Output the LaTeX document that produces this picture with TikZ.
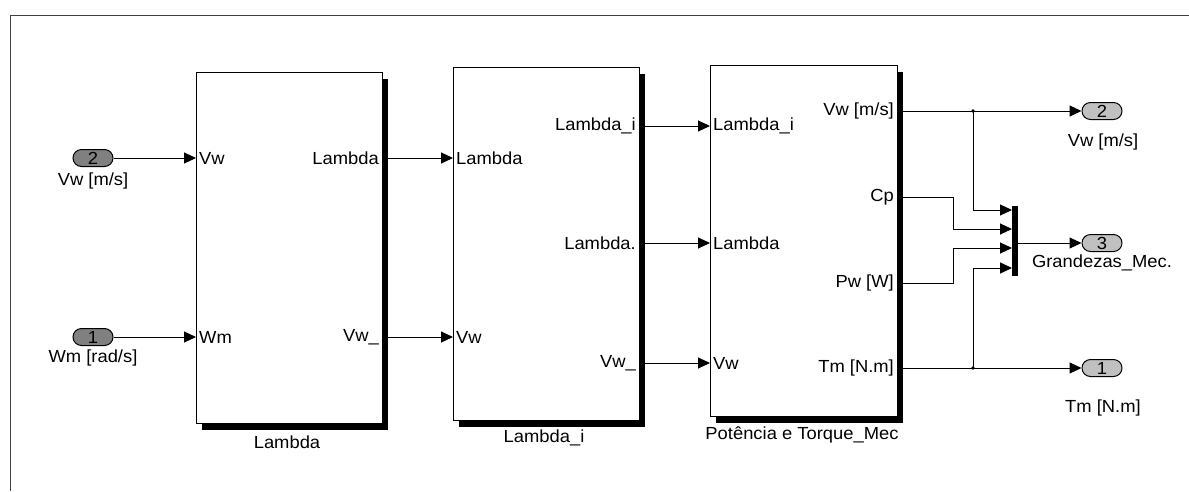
\documentclass[tikz,border=0pt]{standalone}
\usepackage{fontspec}
\setmainfont{Liberation Sans}[FakeStretch=1.05]
\usetikzlibrary{positioning,arrows.meta,shadows,shapes.misc}
\newcommand\fs{\fontsize{17.5}{20}\selectfont}
\definecolor{inpgray}{RGB}{128,128,128}
\definecolor{outgray}{RGB}{192,192,192}

\begin{document}
\begin{tikzpicture}[x=1pt,y=-1pt,
  blk/.style={draw,fill=white,line width=1pt,inner sep=0pt,anchor=north west,
    general shadow={fill=black,shadow xshift=5pt,shadow yshift=-6pt}},
  pin/.style={font=\fs,inner sep=3pt,anchor=west},
  pout/.style={font=\fs,inner sep=3pt,anchor=east},
  inp/.style={draw,line width=1pt,rounded rectangle,fill=inpgray,minimum width=40pt,
    minimum height=17pt,inner sep=0pt,font=\fs},
  outp/.style={inp,fill=outgray},
  lbl/.style={font=\fs,inner sep=0pt},
  ar/.style={-{Triangle[length=12pt,width=11pt]}},
  wire/.style={line width=1pt}]
\useasboundingbox (0,0) rectangle (1189,491);
\draw[black!75,line width=1pt] (1189,15) -- (10,15) -- (10,491);

% inports
\node[inp] (in2) at (93,158) {2};
\node[lbl] at (93,181) {Vw [m/s]};
\node[inp] (in1) at (93,337) {1};
\node[lbl] at (93,358) {Wm [rad/s]};

% block Lambda
\node[blk,minimum width=186pt,minimum height=351pt] (lam) at (196,72) {};
\node[lbl] at (287,442) {Lambda};
\node[pin] (lamVw) at (196,158) {Vw};
\node[pin] (lamWm) at (196,337) {Wm};
\node[pout] (lamLam) at (382,158) {Lambda};
\node[pout] (lamV) at (382,337) {Vw\_};

% block Lambda_i
\node[blk,minimum width=186pt,minimum height=353pt] (li) at (453,67) {};
\node[lbl] at (544,438) {Lambda\_i};
\node[pin] (liLam) at (453,158) {Lambda};
\node[pin] (liVw) at (453,337) {Vw};
\node[pout] (liLi) at (639,126) {Lambda\_i};
\node[pout] (liLam2) at (639,243) {Lambda.};
\node[pout] (liV) at (639,363) {Vw\_};

% block Potencia e Torque_Mec
\node[blk,minimum width=187pt,minimum height=351pt] (pt) at (710,65) {};
\node[lbl] at (802,435) {Potência e Torque\_Mec};
\node[pin] (ptLi) at (710,126) {Lambda\_i};
\node[pin] (ptLam) at (710,243) {Lambda};
\node[pin] (ptVw) at (710,363) {Vw};
\node[pout] (ptV) at (897,111) {Vw [m/s]};
\node[pout] (ptCp) at (897,197) {Cp};
\node[pout] (ptPw) at (897,283) {Pw [W]};
\node[pout] (ptTm) at (897,368) {Tm [N.m]};

% mux
\node[fill=black,minimum width=6pt,minimum height=70pt,inner sep=0pt] (mux) at (1015,241) {};
\coordinate (m1) at (1012,210);
\coordinate (m2) at (1012,229);
\coordinate (m3) at (1012,248);
\coordinate (m4) at (1012,268);
\coordinate (mo) at (1018,243);

% outports
\node[outp] (out2) at (1102,111) {2};
\node[lbl] at (1103,142) {Vw [m/s]};
\node[outp] (out3) at (1102,243) {3};
\node[lbl] at (1102,263) {Grandezas\_Mec.};
\node[outp] (out1) at (1102,368) {1};
\node[lbl] at (1103,408) {Tm [N.m]};

\coordinate (j1) at (973,111);
\coordinate (j2) at (973,368);

% wires
\draw[wire,ar] (in2.east) -- (lamVw.west);
\draw[wire,ar] (in1.east) -- (lamWm.west);
\draw[wire,ar] (lamLam.east) -- (liLam.west);
\draw[wire,ar] (lamV.east) -- (liVw.west);
\draw[wire,ar] (liLi.east) -- (ptLi.west);
\draw[wire,ar] (liLam2.east) -- (ptLam.west);
\draw[wire,ar] (liV.east) -- (ptVw.west);
\draw[wire,ar] (ptV.east) -- (out2.west);
\draw[wire,ar] (ptTm.east) -- (out1.west);
\draw[wire,ar] (j1) |- (m1);
\draw[wire,ar] (ptCp.east) -- (953,197) |- (m2);
\draw[wire,ar] (ptPw.east) -- (953,283) |- (m3);
\draw[wire,ar] (j2) |- (m4);
\draw[wire,ar] (mo) -- (out3.west);
\fill (j1) circle (1.8pt) (j2) circle (1.8pt);
\end{tikzpicture}
\end{document}
